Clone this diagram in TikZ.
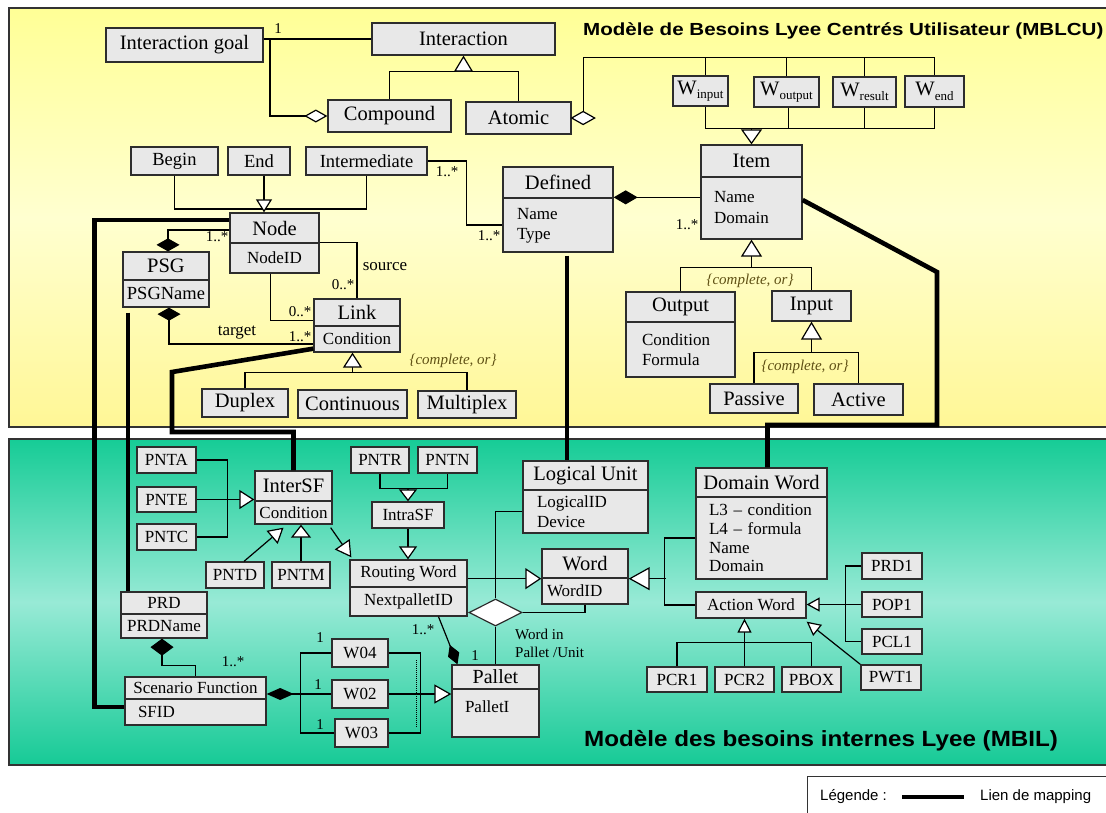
\documentclass[tikz,border=0pt]{standalone}
\usepackage{graphicx}
\usepackage{fontspec}
\setmainfont{Liberation Serif}
\newfontfamily\headfont{Liberation Sans}
\usetikzlibrary{arrows.meta,shapes.geometric}

\definecolor{ytop}{RGB}{255,255,150}
\definecolor{ymid}{RGB}{255,255,208}
\definecolor{ybot}{RGB}{255,247,150}
\definecolor{gtop}{RGB}{22,204,150}
\definecolor{gmid}{RGB}{152,234,214}
\definecolor{gbot}{RGB}{22,202,150}
\definecolor{boxfill}{RGB}{232,232,232}
\definecolor{boxline}{RGB}{45,45,45}
\definecolor{constr}{RGB}{95,80,20}

\newcommand\fbig{\fontsize{20.5}{23}\selectfont}
\newcommand\fmid{\fontsize{18.5}{21}\selectfont}
\newcommand\fsmall{\fontsize{17}{20}\selectfont}
\newcommand\flab{\fontsize{15}{18}\selectfont}
\newcommand\Wsub[1]{W\raisebox{-4.5pt}{\fontsize{13}{13}\selectfont #1}}
% class box given by its two corners: [options]{name}{x1}{y1}{x2}{y2}{text}
\newcommand\umlbox[7][]{\node[box,#1,minimum width={(#5-#3)*1pt},minimum height={(#6-#4)*1pt}] (#2) at ({(#3+#5)/2},{(#4+#6)/2}) {#7};}

\begin{document}
\begin{tikzpicture}[x=1pt,y=-1pt,
  box/.style={draw=boxline,fill=boxfill,line width=1.3pt,inner sep=0pt,font=\fbig},
  conn/.style={draw=black,line width=1.2pt},
  map/.style={draw=black,line width=4.6pt},
  gen/.style args={#1/#2}{conn,-{Triangle[fill=white,length=#1pt,width=#2pt]}},
  lab/.style={font=\flab,inner sep=0pt},
  constraint/.style={font=\itshape\fontsize{15}{17}\selectfont,text=constr,inner sep=0pt}]

\useasboundingbox (0,0) rectangle (1106,812);

% panels
\path[top color=ytop,bottom color=ybot,middle color=ymid,draw=black!80,line width=1.2pt] (9,8) rectangle (1115,427);
\path[top color=gtop,bottom color=gbot,middle color=gmid,draw=black!80,line width=1.2pt] (9,439) rectangle (1115,765);
\draw[line width=1pt,draw=black!80,fill=white] (807,776) rectangle (1115,820);

\node[font=\headfont\bfseries\fontsize{17.5}{20}\selectfont,anchor=west,inner sep=0pt] (t1) at (583,31) {\scalebox{1.175}[1]{Modèle de Besoins Lyee Centrés Utilisateur (MBLCU)}};
\node[font=\headfont\bfseries\fontsize{22}{25}\selectfont,anchor=west,inner sep=0pt] (t2) at (584,741) {\scalebox{1.1}[1]{Modèle des besoins internes Lyee (MBIL)}};

% legend
\node[font=\headfont\fontsize{15}{17}\selectfont,anchor=west,inner sep=0pt] (leg) at (820,797) {Légende :};
\coordinate (lga) at (902,797);
\coordinate (lgb) at (964,797);
\draw[line width=4pt] (lga) -- (lgb);
\node[font=\headfont\fontsize{15}{17}\selectfont,anchor=west,inner sep=0pt] (legt) at (980,797) {Lien de mapping};

% ---------- user-centred model ----------
\umlbox{goal}{106}{28}{263}{62}{Interaction goal}
\umlbox{inter}{372}{23}{555}{55}{Interaction}
\umlbox{comp}{328}{100}{451}{132}{Compound}
\umlbox{atom}{466}{102}{571}{134}{Atomic}
\umlbox{winp}{673}{76}{728}{106}{\Wsub{input}}
\umlbox{wout}{754}{77}{819}{107}{\Wsub{output}}
\umlbox{wres}{833}{77}{896}{107}{\Wsub{result}}
\umlbox{wend}{905}{76}{964}{107}{\Wsub{end}}

\umlbox[font=\fmid]{begin}{131}{147}{218}{175}{Begin}
\umlbox[font=\fmid]{endb}{228}{147}{290}{175}{End}
\umlbox[font=\fmid]{interm}{306}{147}{427}{175}{Intermediate}

\umlbox{ndc}{230}{213}{319}{243}{Node}
\umlbox[font=\fsmall]{ndc-b}{230}{243}{319}{273}{NodeID}
\umlbox{psg}{123}{252}{209}{280}{PSG}
\umlbox[font=\fmid]{psg-b}{123}{280}{209}{307}{PSGName}
\umlbox{link}{314}{299}{400}{326}{Link}
\umlbox[font=\fsmall]{link-b}{314}{326}{400}{352}{Condition}
\umlbox{duplex}{202}{389}{288}{417}{Duplex}
\umlbox{cont}{298}{390}{407}{418}{Continuous}
\umlbox{multi}{418}{391}{516}{418}{Multiplex}

\umlbox{defined}{503}{167}{613}{198}{Defined}
\umlbox[font=\fsmall,align=left,text width=82pt]{defined-b}{503}{198}{613}{252}{\raisebox{-4pt}{\begin{tabular}{@{}l@{}}Name\\Type\end{tabular}}}
\umlbox{item}{701}{145}{802}{177}{Item}
\umlbox[font=\fontsize{17}{21}\selectfont,align=left,text width=75pt]{item-b}{701}{177}{802}{239}{Name\\Domain}
\umlbox{output}{626}{292}{735}{322}{Output}
\umlbox[font=\fsmall,align=left,text width=77pt]{output-b}{626}{322}{735}{377}{Condition\\Formula}
\umlbox{input}{772}{291}{851}{321}{Input}
\umlbox{passive}{710}{384}{798}{413}{Passive}
\umlbox{active}{814}{384}{903}{415}{Active}

% interaction hierarchy
\draw[conn] (goal.east |- inter.west) -- (inter.west);
\coordinate (gj) at (270,39);
\draw[conn,-{Diamond[fill=white,length=23pt,width=13pt]}] (gj) |- (comp.west);
\node[lab] (c1) at (278,29) {1};
\coordinate (gi) at ([yshift=-16pt]inter.south);
\draw[conn] (comp.north) |- (gi) -| (atom.north);
\draw[gen=16/19] (gi) -- (inter.south);

% atomic interaction aggregates the W words
\draw[conn,fill=white] (atom.east) -- ++(11.5,-6.5) coordinate (ad) -- ++(11.5,6.5) -- ++(-11.5,6.5) -- cycle;
\draw[conn] (ad) |- ([yshift=18pt]wend.north) -- (wend.north);
\draw[conn] ([xshift=5pt]winp.north) -- ++(0,-18);
\draw[conn] (wout.north) -- ++(0,-19);
\draw[conn] (wres.north) -- ++(0,-19);

\coordinate (gw) at ([yshift=16pt]item.north);
\draw[conn] ([xshift=5pt]winp.south) |- (gw) -| (wend.south);
\draw[conn] ([xshift=2pt]wout.south) -- ([xshift=2pt]wout.south |- gw);
\draw[conn] (wres.south) -- (wres.south |- gw);
\draw[gen=15/21] (gw) -- (item.north);

% node kinds
\coordinate (gn) at (264,209);
\draw[conn] (begin.south) |- (gn) -| (interm.south);
\draw[gen=13/16] (endb.south -| gn) -- (ndc.north -| gn);

\draw[conn] (interm.east) -- ++(39,0) |- (defined-b.west);
\node[lab] (c2) at (447,172) {1..*};
\node[lab] (c3) at (489,236) {1..*};

\draw[conn,{Diamond[fill=black,length=24pt,width=14pt]}-] (defined-b.north east) -- (defined-b.north east -| item.west);
\node[lab] (c4) at (687,225) {1..*};

\coordinate (gI) at ([yshift=-28pt]item-b.south);
\draw[conn] (output.north) |- (gI) -| (input.north);
\draw[gen=17/21] (gI) -- (item-b.south);
\node[constraint] (k1) at (750,281) {\{complete, or\}};

\coordinate (gP) at ([yshift=-31pt]input.south);
\draw[conn] (passive.north) |- (gP) -| (active.north);
\draw[gen=18/21] (gP) -- (input.south);
\node[constraint] (k2) at (805,367) {\{complete, or\}};

% PSG, nodes and links
\draw[conn,{Diamond[fill=black,length=13pt,width=23pt]}-] ([xshift=2pt]psg.north) |- ([yshift=-2pt]ndc.west);
\node[lab] (c5) at (217,237) {1..*};
\draw[conn,{Diamond[fill=black,length=13pt,width=23pt]}-] ([xshift=3pt]psg-b.south) |- ([yshift=-5pt]link-b.west);
\node[font=\fsmall,inner sep=0pt] (c6) at (237,333) {target};
\node[lab] (c7) at (300,337) {1..*};
\draw[conn] (ndc-b.north east) -| (link.north);
\node[font=\fsmall,inner sep=0pt] (c8) at (385,267) {source};
\node[lab] (c9) at (343,285) {0..*};
\draw[conn] ([xshift=-4pt]ndc-b.south) |- ([yshift=-8pt]link.west);
\node[lab] (c10) at (300,312) {0..*};

\coordinate (gL) at ([yshift=17pt]cont.north);
\draw[conn] (duplex.north) |- (gL) -| (multi.north);
\draw[gen=15/19] (gL) -- (gL |- link-b.south);
\node[constraint] (k3) at (453,361) {\{complete, or\}};

% ---------- internal model ----------
\umlbox[font=\fsmall]{pnta}{137}{447}{196}{473}{PNTA}
\umlbox[font=\fsmall]{pnte}{137}{487}{196}{512}{PNTE}
\umlbox[font=\fsmall]{pntc}{137}{524}{196}{550}{PNTC}
\umlbox{intersf}{255}{471}{332}{501}{InterSF}
\umlbox[font=\fsmall]{intersf-b}{255}{501}{332}{524}{Condition}
\umlbox[font=\fsmall]{pntd}{206}{562}{264}{588}{PNTD}
\umlbox[font=\fsmall]{pntm}{272}{562}{330}{588}{PNTM}
\umlbox[font=\fsmall]{pntr}{351}{447}{409}{473}{PNTR}
\umlbox[font=\fsmall]{pntn}{418}{447}{477}{473}{PNTN}
\umlbox[font=\fsmall]{intrasf}{372}{502}{444}{528}{IntraSF}
\umlbox[font=\fsmall]{routing}{350}{560}{467}{587}{Routing Word}
\umlbox[font=\fsmall]{routing-b}{350}{587}{467}{616}{NextpalletID}
\umlbox{logical}{523}{461}{648}{490}{Logical Unit}
\umlbox[font=\fsmall,align=left,text width=97pt]{logical-b}{523}{490}{648}{533}{LogicalID\\Device}
\umlbox{word}{542}{549}{628}{578}{Word}
\umlbox[font=\fsmall,align=left,text width=76pt]{word-b}{542}{578}{628}{604}{WordID}
\umlbox{domain}{696}{468}{827}{497}{Domain Word}
\umlbox[font=\fontsize{17}{18.7}\selectfont,align=left,text width=105pt]{domain-b}{696}{497}{827}{579}{L3 – condition\\L4 – formula\\Name\\Domain}
\umlbox[font=\fsmall]{action}{696}{592}{806}{618}{Action Word}
\umlbox[font=\fsmall]{prd1}{862}{553}{922}{579}{PRD1}
\umlbox[font=\fsmall]{pop1}{862}{592}{922}{617}{POP1}
\umlbox[font=\fsmall]{pcl1}{862}{629}{922}{654}{PCL1}
\umlbox[font=\fsmall]{pwt1}{861}{665}{921}{690}{PWT1}
\umlbox[font=\fsmall]{pcr1}{647}{667}{707}{692}{PCR1}
\umlbox[font=\fsmall]{pcr2}{715}{667}{774}{692}{PCR2}
\umlbox[font=\fsmall]{pbox}{782}{667}{841}{692}{PBOX}
\umlbox[font=\fsmall]{prd}{121}{592}{207}{614}{PRD}
\umlbox[font=\fsmall]{prd-b}{121}{614}{207}{638}{PRDName}
\umlbox[font=\fsmall]{sf}{125}{677}{266}{699}{Scenario Function}
\umlbox[font=\fsmall,align=left,text width=115pt]{sf-b}{125}{699}{266}{725}{SFID}
\umlbox[font=\fsmall]{w04}{332}{639}{388}{667}{W04}
\umlbox[font=\fsmall]{w02}{332}{680}{388}{708}{W02}
\umlbox[font=\fsmall]{w03}{335}{719}{388}{747}{W03}
\umlbox[font=\fontsize{20}{23}\selectfont]{pallet}{452}{665}{539}{689}{Pallet}
\umlbox[font=\fsmall,align=left,text width=61pt,text depth=12pt]{pallet-b}{452}{689}{539}{737}{PalletI}

\node[draw=boxline,fill=white,line width=1.2pt,shape=diamond,minimum width=53pt,minimum height=27pt,inner sep=0pt] (assoc) at (495.5,612.5) {};

% inter scenario functions
\draw[conn] (pnta.east) -- ++(31,0) |- (pntc.east);
\draw[gen=15/19] (pnte.east) -- (pnte.east -| intersf.west);
\draw[gen=15/17] ([xshift=9pt]pntd.north) -- ([xshift=-10pt,yshift=-3pt]intersf-b.south);
\draw[gen=13/20] (pntm.north) -- (pntm.north |- intersf-b.south);
\draw[gen=16/18] ([xshift=-2pt,yshift=-3pt]intersf-b.south east) -- ([xshift=2pt,yshift=2pt]routing.north west);

% intra scenario functions
\coordinate (gR) at ([yshift=13pt]intrasf.north);
\draw[conn] (pntr.south) |- (gR) -| (pntn.south);
\draw[gen=12/18] (gR) -- (intrasf.north);
\draw[gen=13/18] (intrasf.south) -- (intrasf.south |- routing.north);

% words
\draw[gen=16/21] (routing.east |- word.south) -- (word.south west);
\draw[conn] (logical-b.west) -| (assoc.north);
\draw[conn] (assoc.east) -| (word-b.south);
\draw[conn] (assoc.south) -- (pallet.north);
\node[lab,align=left,anchor=north west] (c11) at (515,629) {Word in\\Pallet /Unit};

\draw[conn,-{Diamond[fill=black,length=21pt,width=12pt]}] ([xshift=30pt]routing-b.south) -- ([xshift=-38pt]pallet.north);
\node[lab] (c12) at (423,630) {1..*};
\node[lab] (c13) at (475,656) {1};

\draw[conn] (domain-b.west) -- ++(-31,0) |- (action.west);
\draw[gen=21/23] ([xshift=37pt]word.south east) -- (word.south east);

\draw[conn] (prd1.west) -- ++(-16,0) |- (pcl1.west);
\draw[gen=13/14] (pop1.west) -- (pop1.west -| action.east);
\draw[gen=14/14] (pwt1.north west) -- ([yshift=-3pt]action.south east);

\coordinate (gA) at ([yshift=24pt]pcr2.north);
\draw[conn] (pcr1.north) |- (gA) -| (pbox.north);
\draw[gen=14/14] (pcr2.north) -- (pcr2.north |- action.south);

% scenario function
\draw[conn,{Diamond[fill=black,length=17pt,width=23pt]}-] ([xshift=-2pt]prd-b.south) |- ([yshift=11pt]sf.north) -- (sf.north);
\node[lab] (c14) at (233,662) {1..*};
\draw[conn,{Diamond[fill=black,length=27pt,width=12pt]}-] (sf.south east |- w02.west) -- (w02.west);
\draw[conn] (w04.west) -- ++(-31,0) |- (w03.west);
\node[lab] (c15) at (320,638) {1};
\node[lab] (c16) at (318,685) {1};
\node[lab] (c17) at (320,725) {1};

\draw[conn] (w04.east) -- ++(32,0) |- (w03.east);
\draw[gen=17/19] (w02.east) -- (w02.east -| pallet.west);
\coordinate (dta) at (416,660);
\coordinate (dtb) at (416,728);
\draw[densely dotted,line width=1pt] (dta) -- (dtb);

% mapping links between the two models
\coordinate (m1) at (172,372);
\coordinate (m2) at (172,432);
\draw[map] ([yshift=4pt]link-b.south west) -- (m1) -- (m2) -| (intersf.north);
\draw[map] ([yshift=8pt]ndc.west) -- ++(-135,0) |- ([yshift=5pt]sf-b.west);
\draw[map] ([xshift=-38pt,yshift=-5pt]psg-b.south) -- ([xshift=-36pt]prd.north);
\draw[map] ([xshift=9pt,yshift=-3pt]defined-b.south) -- ([xshift=-18.5pt]logical.north);
\coordinate (m3) at (937,272);
\coordinate (m4) at (937,425);
\draw[map] ([yshift=8pt]item-b.east) -- (m3) -- (m4) -| ([xshift=6pt]domain.north);

\end{tikzpicture}
\end{document}
